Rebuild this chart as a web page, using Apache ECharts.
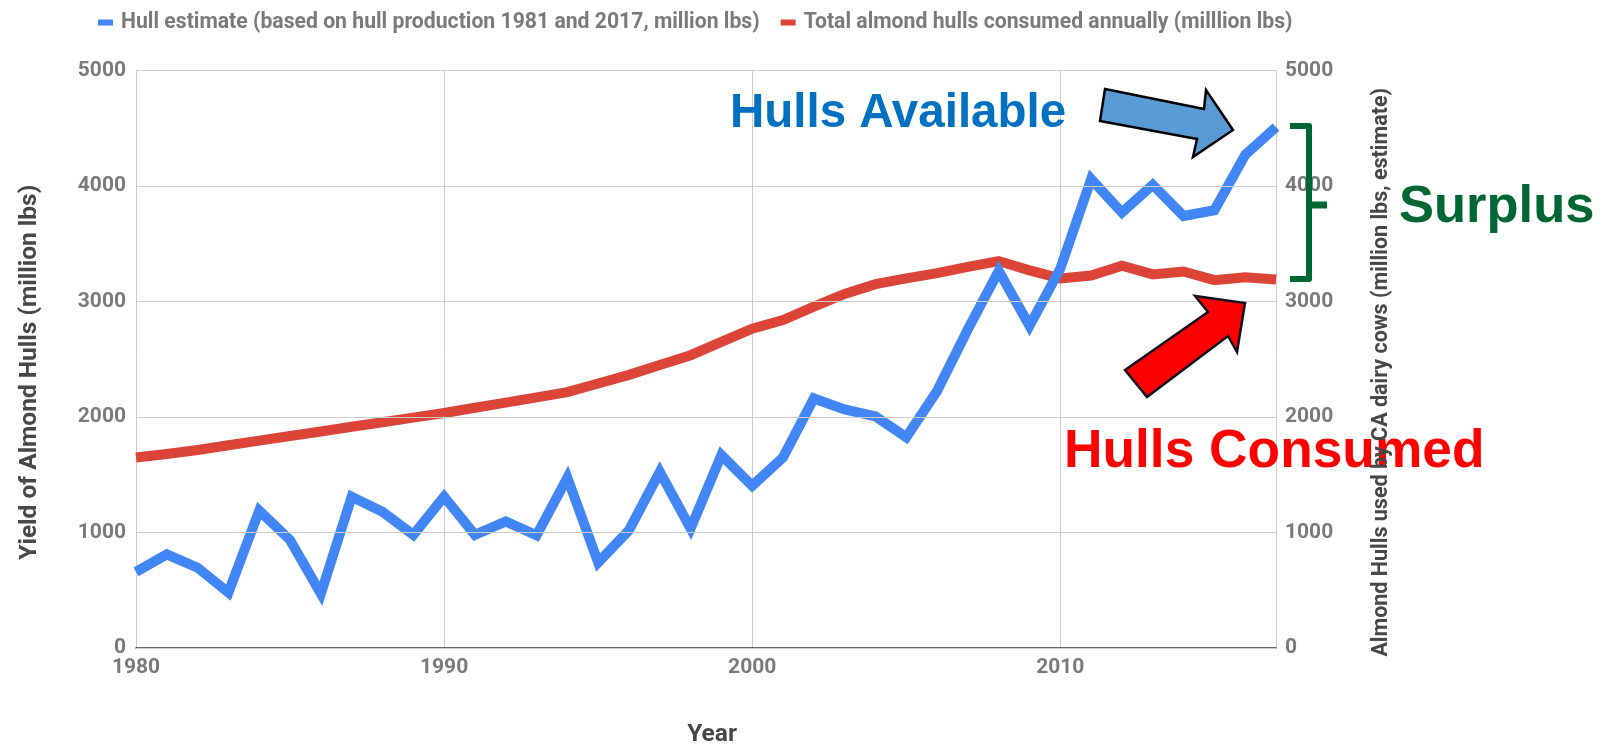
<!DOCTYPE html>
<html>
<head>
<meta charset="utf-8">
<script src="https://cdn.jsdelivr.net/npm/echarts@6/dist/echarts.min.js"></script>
<style>
  html, body { margin: 0; padding: 0; background: #ffffff; }
  #chart { width: 1612px; height: 752px; }
</style>
</head>
<body>
<div id="chart"></div>
<script>
// Years on the horizontal axis
var years = [
  1980, 1981, 1982, 1983, 1984, 1985, 1986, 1987, 1988, 1989,
  1990, 1991, 1992, 1993, 1994, 1995, 1996, 1997, 1998, 1999,
  2000, 2001, 2002, 2003, 2004, 2005, 2006, 2007, 2008, 2009,
  2010, 2011, 2012, 2013, 2014, 2015, 2016, 2017
];

// Estimated almond hull yield (million lbs)
var hullEstimate = [
  660, 810, 695, 480, 1190, 935, 470, 1310, 1180, 980,
  1310, 980, 1095, 975, 1475, 740, 1020, 1525, 1035, 1670,
  1405, 1650, 2160, 2065, 2005, 1825, 2225, 2760, 3265, 2790,
  3285, 4060, 3770, 4010, 3740, 3790, 4270, 4510
];

// Almond hulls consumed by CA dairy cows each year (million lbs)
var hullsConsumed = [
  1650, 1680, 1715, 1755, 1795, 1835, 1875, 1915, 1955, 1995,
  2035, 2080, 2125, 2170, 2215, 2290, 2365, 2450, 2535, 2650,
  2765, 2840, 2955, 3065, 3150, 3200, 3245, 3300, 3350, 3270,
  3200, 3225, 3310, 3235, 3260, 3185, 3210, 3190
];

var seriesNames = [
  'Hull estimate (based on hull production 1981 and 2017, million lbs)',
  'Total almond hulls consumed annually (milllion lbs)'
];

var yTicks = [0, 1000, 2000, 3000, 4000, 5000];
var xTicks = [1980, 1990, 2000, 2010];

function pairs(values) {
  return years.map(function (y, i) { return [y, values[i]]; });
}

function plain(v) { return String(v); }

var tickFont = {
  color: '#7a7a7a',
  fontFamily: 'Roboto',
  fontSize: 21,
  fontWeight: 'bold'
};
var titleFont = {
  color: '#474747',
  fontFamily: 'Roboto',
  fontSize: 24.5,
  fontWeight: 'bold'
};

var chart = echarts.init(document.getElementById('chart'), null, { renderer: 'canvas' });

chart.setOption({
  backgroundColor: '#ffffff',
  animation: false,
  legend: {
    left: 93,
    top: 7,
    itemWidth: 15,
    itemHeight: 6,
    itemGap: 21,
    icon: 'rect',
    textStyle: {
      color: '#7a7a7a',
      fontFamily: 'Roboto',
      fontSize: 21.2,
      fontWeight: 'bold',
      padding: [0, 0, 0, 3]
    },
    data: seriesNames
  },
  grid: {
    left: 136,
    right: 336,
    top: 70.5,
    bottom: 98,
    containLabel: false
  },
  xAxis: {
    type: 'value',
    min: xTicks[0],
    max: years[years.length - 1],
    interval: 10,
    name: 'Year',
    nameLocation: 'middle',
    nameGap: 74,
    nameTextStyle: Object.assign({ padding: [0, 0, 0, 12] }, titleFont),
    axisLine: { show: true, lineStyle: { color: '#333333', width: 1.5 } },
    axisTick: { show: false },
    axisLabel: Object.assign({
      margin: 9,
      showMaxLabel: false,
      formatter: plain
    }, tickFont),
    splitLine: { show: true, lineStyle: { color: '#cccccc', width: 1 } }
  },
  yAxis: [
    {
      type: 'value',
      position: 'left',
      min: yTicks[0],
      max: yTicks[yTicks.length - 1],
      interval: 1000,
      name: 'Yield of Almond Hulls (million lbs)',
      nameLocation: 'middle',
      nameGap: 94,
      nameTextStyle: Object.assign({ padding: [0, 26, 0, 0] }, titleFont),
      axisLine: { show: false },
      axisTick: { show: false },
      axisLabel: Object.assign({ margin: 10, formatter: plain }, tickFont),
      splitLine: { show: true, lineStyle: { color: '#cccccc', width: 1 } },
      z: 5
    },
    {
      type: 'value',
      position: 'right',
      min: yTicks[0],
      max: yTicks[yTicks.length - 1],
      interval: 1000,
      name: 'Almond Hulls used by CA dairy cows (million lbs, estimate)',
      nameLocation: 'middle',
      nameGap: 95,
      nameTextStyle: Object.assign({ padding: [0, 26, 0, 0] }, titleFont, { fontSize: 21.5 }),
      axisLine: { show: false },
      axisTick: { show: false },
      axisLabel: Object.assign({ margin: 9, formatter: plain }, tickFont),
      splitLine: { show: false },
      z: 5
    }
  ],
  series: [
    {
      name: seriesNames[0],
      type: 'line',
      data: pairs(hullEstimate),
      yAxisIndex: 0,
      showSymbol: false,
      symbol: 'none',
      itemStyle: { color: '#4285f4' },
      lineStyle: { color: '#4285f4', width: 10, join: 'miter', miterLimit: 6 },
      z: 3
    },
    {
      name: seriesNames[1],
      type: 'line',
      data: pairs(hullsConsumed),
      yAxisIndex: 1,
      showSymbol: false,
      symbol: 'none',
      itemStyle: { color: '#db4437' },
      lineStyle: { color: '#db4437', width: 10, join: 'miter', miterLimit: 6 },
      z: 2
    }
  ],
  graphic: [
    // Callout labels
    {
      type: 'text', z: 1,
      style: {
        x: 730, y: 114, text: 'Hulls Available',
        font: 'bold 47.5px "Liberation Sans", Arial, sans-serif',
        fill: '#0070c0', textAlign: 'left', textVerticalAlign: 'middle'
      }
    },
    {
      type: 'text', z: 1,
      style: {
        x: 1064, y: 452, text: 'Hulls Consumed',
        font: 'bold 53.3px "Liberation Sans", Arial, sans-serif',
        fill: '#ff0000', textAlign: 'left', textVerticalAlign: 'middle'
      }
    },
    {
      type: 'text', z: 1,
      style: {
        x: 1399, y: 208, text: 'Surplus',
        font: 'bold 52.5px "Liberation Sans", Arial, sans-serif',
        fill: '#006633', textAlign: 'left', textVerticalAlign: 'middle'
      }
    },
    // Arrow pointing at the hull estimate line
    {
      type: 'polygon', z: 20,
      shape: {
        points: [[1105, 89], [1204, 109], [1206, 90], [1233, 130], [1193, 157], [1197, 139], [1100, 121]]
      },
      style: { fill: '#5b9bd5', stroke: '#000000', lineWidth: 2.5, lineJoin: 'miter' }
    },
    // Arrow pointing at the consumption line
    {
      type: 'polygon', z: 20,
      shape: {
        points: [[1125, 370], [1208, 312], [1195, 296], [1245, 303], [1237, 352], [1228, 336], [1147, 397]]
      },
      style: { fill: '#ff0000', stroke: '#111122', lineWidth: 2.5, lineJoin: 'miter' }
    },
    // Bracket spanning the gap between the two lines
    {
      type: 'polyline', z: 20,
      shape: { points: [[1290, 126], [1309, 126], [1309, 279], [1290, 279]] },
      style: { stroke: '#006633', lineWidth: 6, fill: null, lineJoin: 'round', lineCap: 'butt' }
    },
    {
      type: 'line', z: 20,
      shape: { x1: 1309, y1: 205, x2: 1327, y2: 205 },
      style: { stroke: '#006633', lineWidth: 7 }
    }
  ]
});
</script>
</body>
</html>
